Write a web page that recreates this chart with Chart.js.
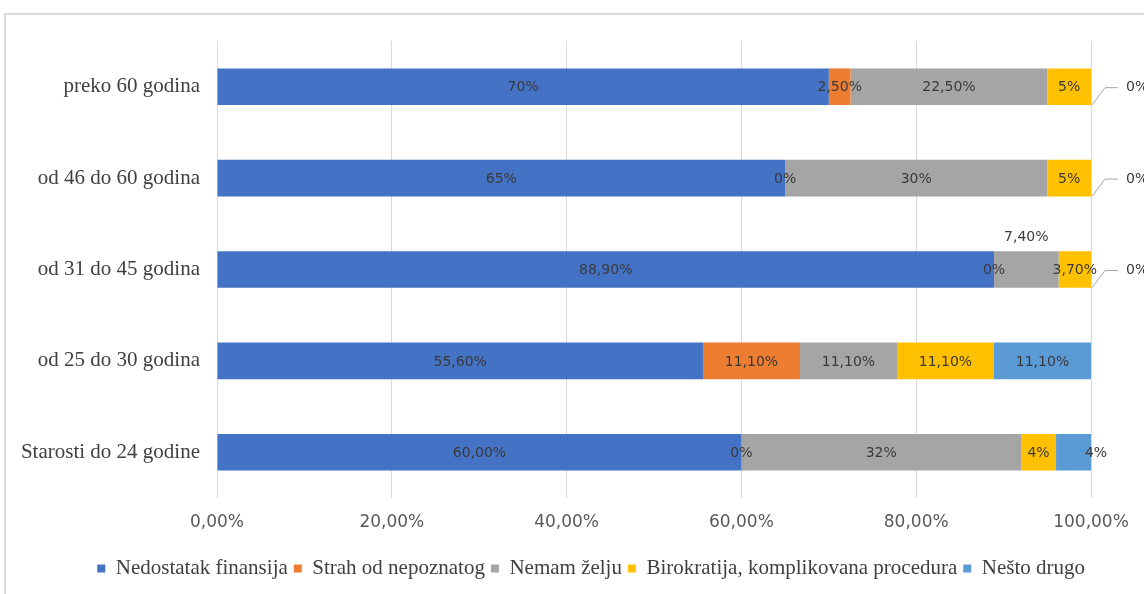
<!DOCTYPE html>
<html><head><meta charset="utf-8">
<script src="https://cdn.jsdelivr.net/npm/chart.js@4.4.1/dist/chart.umd.min.js"></script>
<style>
html,body{margin:0;padding:0;background:#fff;}
#wrap{position:relative;width:1144px;height:594px;overflow:hidden;}
#frame{position:absolute;left:4px;top:13px;width:1200px;height:700px;border:2px solid #dadada;box-sizing:border-box;}
#c{position:absolute;left:0;top:0;width:1144px;height:594px;}
</style></head><body>
<div id="wrap"><div id="frame"></div><canvas id="c" width="1144" height="594"></canvas></div>
<script>
// ---- data ----
const categories = ['preko 60 godina', 'od 46 do 60 godina', 'od 31 do 45 godina', 'od 25 do 30 godina', 'Starosti do 24 godine'];
const seriesNames = ['Nedostatak finansija', 'Strah od nepoznatog', 'Nemam želju', 'Birokratija, komplikovana procedura', 'Nešto drugo'];
const finansija = [70, 65, 88.9, 55.6, 60];
const strah = [2.5, 0, 0, 11.1, 0];
const nemamZelju = [22.5, 30, 7.4, 11.1, 32];
const birokratija = [5, 5, 3.7, 11.1, 4];
const nestoDrugo = [0, 0, 0, 11.1, 4];
const finansijaLabels = ['70%', '65%', '88,90%', '55,60%', '60,00%'];
const strahLabels = ['2,50%', '0%', '0%', '11,10%', '0%'];
const nemamZeljuLabels = ['22,50%', '30%', '7,40%', '11,10%', '32%'];
const birokratijaLabels = ['5%', '5%', '3,70%', '11,10%', '4%'];
const nestoDrugoLabels = ['0%', '0%', '0%', '11,10%', '4%'];
const xTicks = [0, 20, 40, 60, 80, 100];
const xTickLabels = ['0,00%', '20,00%', '40,00%', '60,00%', '80,00%', '100,00%'];

// ---- styling ----
const colors = ['#4472C4', '#ED7D31', '#A5A5A5', '#FFC000', '#5B9BD5'];
const placements = [
  ['center', 'center', 'center', 'center', 'center'],
  ['center', 'center', 'center', 'center', 'center'],
  ['center', 'center', 'above', 'center', 'center'],
  ['center', 'center', 'center', 'center', 'center'],
  ['leader', 'leader', 'leader', 'center', 'right']
];
const values = [finansija, strah, nemamZelju, birokratija, nestoDrugo];
const valueLabels = [finansijaLabels, strahLabels, nemamZeljuLabels, birokratijaLabels, nestoDrugoLabels];

const labelPlugin = {
  id: 'barLabels',
  afterDatasetsDraw(chart) {
    const ctx = chart.ctx;
    ctx.save();
    ctx.font = '14px "DejaVu Sans"';
    ctx.textBaseline = 'middle';
    chart.data.datasets.forEach((ds, di) => {
      const meta = chart.getDatasetMeta(di);
      meta.data.forEach((bar, i) => {
        const txt = valueLabels[di][i];
        const p = placements[di][i];
        const h = bar.height;
        ctx.fillStyle = '#3a3a3a';
        ctx.textAlign = 'center';
        if (p === 'center') {
          ctx.fillText(txt, (bar.x + bar.base) / 2, bar.y + 1);
        } else if (p === 'above') {
          ctx.fillText(txt, (bar.x + bar.base) / 2, bar.y - h / 2 - 14);
        } else if (p === 'right') {
          ctx.fillText(txt, bar.x + 5, bar.y + 1);
        } else if (p === 'leader') {
          const x0 = bar.x + 1, y0 = bar.y + h / 2;
          const x1 = x0 + 13, y1 = bar.y + 1;
          const x2 = x1 + 13;
          ctx.strokeStyle = '#a6a6a6';
          ctx.lineWidth = 1;
          ctx.beginPath();
          ctx.moveTo(x0, y0); ctx.lineTo(x1, y1); ctx.lineTo(x2, y1);
          ctx.stroke();
          ctx.textAlign = 'left';
          ctx.fillText(txt, x2 + 8, y1);
        }
      });
    });
    ctx.restore();
  }
};

new Chart(document.getElementById('c'), {
  type: 'bar',
  data: {
    labels: categories,
    datasets: values.map((d, i) => ({
      label: seriesNames[i],
      data: d,
      backgroundColor: colors[i],
      borderWidth: 0,
      barPercentage: 0.4,
      categoryPercentage: 1.0
    }))
  },
  options: {
    indexAxis: 'y',
    responsive: false,
    animation: false,
    devicePixelRatio: 1,
    layout: { padding: { top: 41, left: 0, right: 53, bottom: 5 } },
    scales: {
      x: {
        stacked: true,
        min: 0, max: 100,
        afterBuildTicks: (s) => { s.ticks = xTicks.map(v => ({ value: v })); },
        afterFit: (s) => { s.height = 54; },
        ticks: {
          callback: (v) => xTickLabels[xTicks.indexOf(v)],
          font: { family: 'DejaVu Sans', size: 17 },
          color: '#595959',
          padding: 14,
          maxRotation: 0
        },
        grid: { color: '#d9d9d9', drawTicks: false, lineWidth: 1 },
        border: { display: false }
      },
      y: {
        stacked: true,
        afterFit: (s) => { s.width = 217; },
        ticks: {
          font: { family: 'Liberation Serif', size: 21 },
          color: '#404040',
          padding: 17
        },
        grid: { display: false, drawTicks: false },
        border: { display: false }
      }
    },
    plugins: {
      legend: {
        position: 'bottom',
        align: 'end',
        labels: {
          font: { family: 'Liberation Serif', size: 21 },
          color: '#404040',
          boxWidth: 8,
          boxHeight: 8,
          padding: 6
        }
      },
      tooltip: { enabled: false }
    }
  },
  plugins: [labelPlugin]
});
</script>
</body></html>
